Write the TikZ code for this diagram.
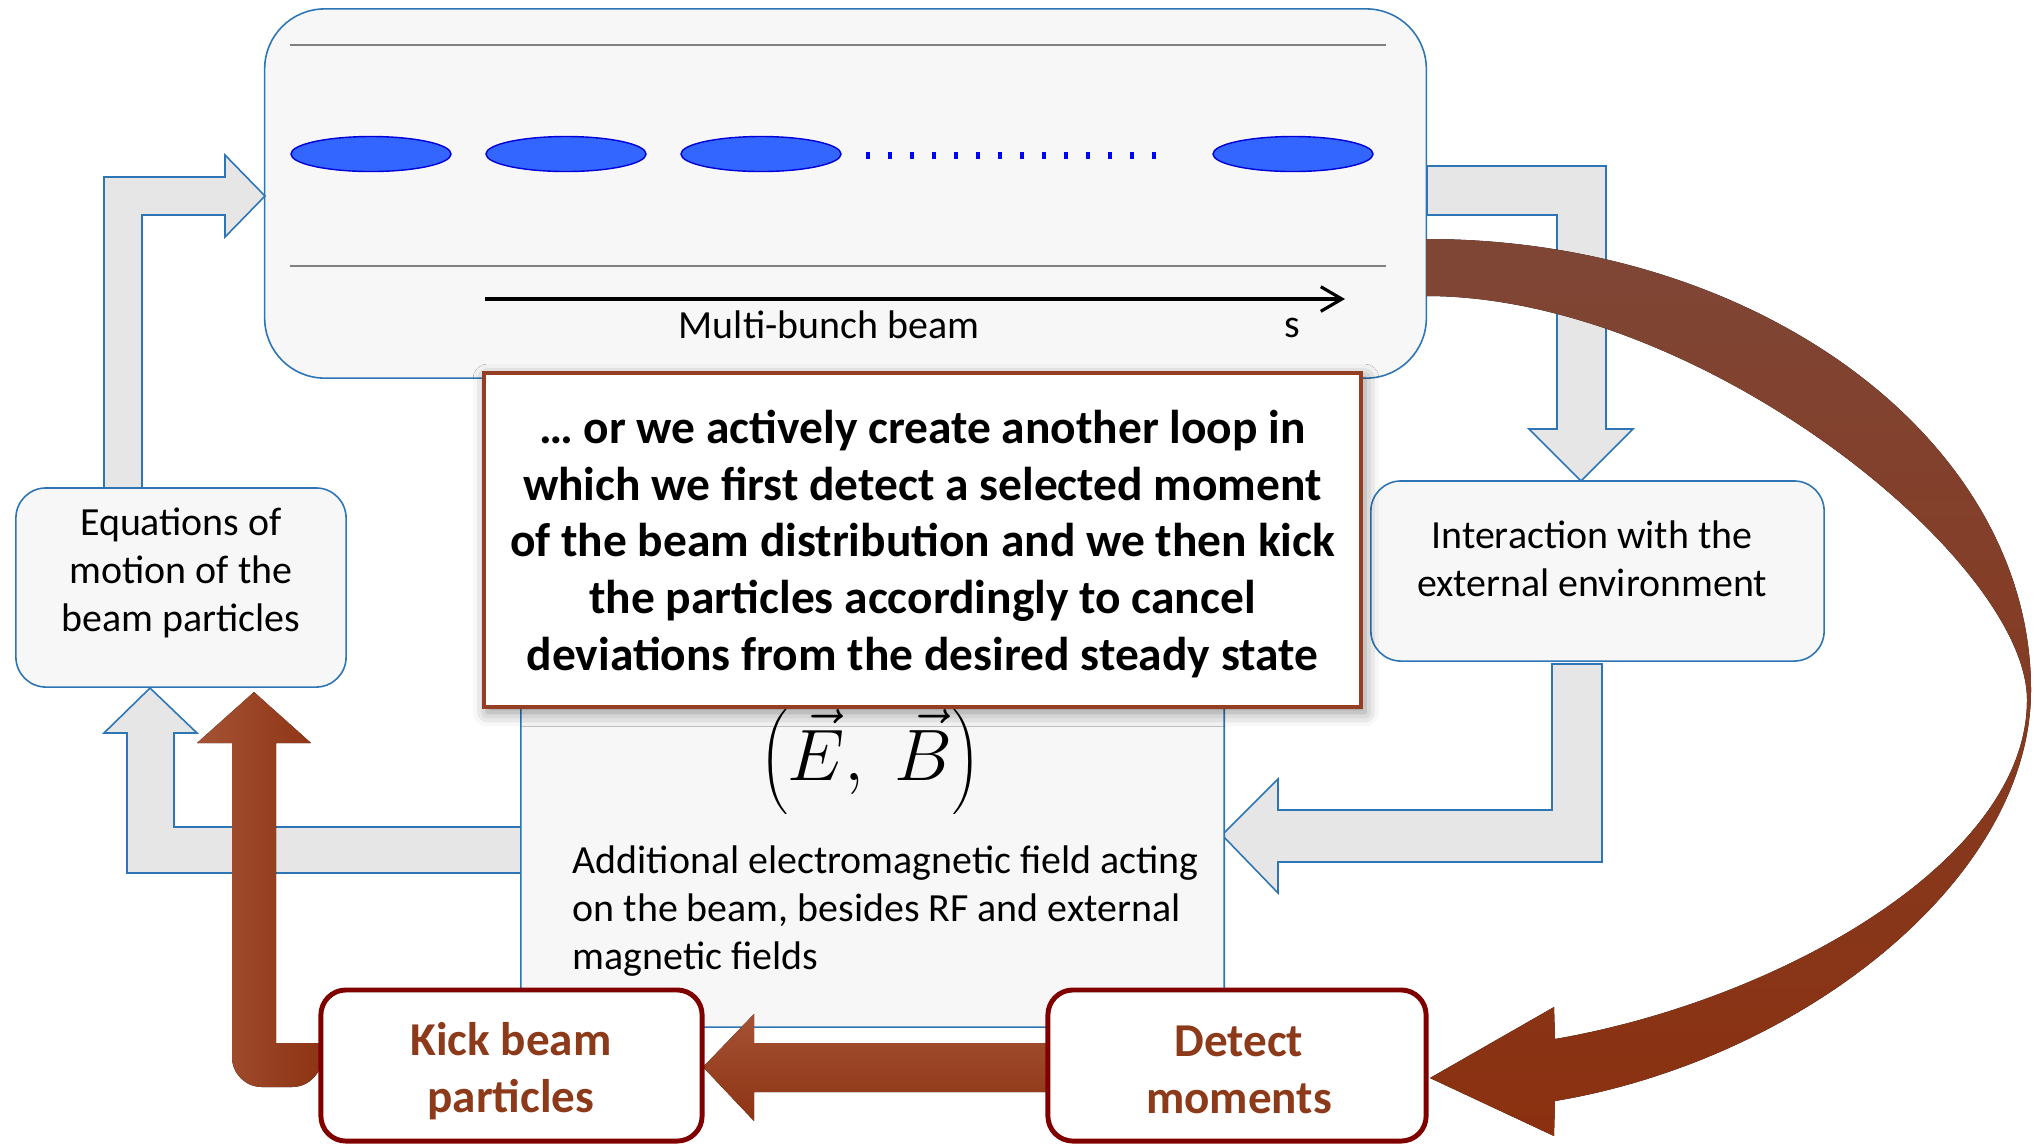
\documentclass[tikz,border=0pt]{standalone}
\usepackage{fontspec}
\setmainfont{Carlito}
\definecolor{PanelFill}  {RGB}{247,247,247}
\definecolor{PanelLine}  {RGB}{46,117,182}
\definecolor{ArrowGray}  {RGB}{230,230,230}
\definecolor{BunchBlue}  {RGB}{51,102,255}
\definecolor{KickRed}    {RGB}{128,0,0}
\definecolor{RustText}   {RGB}{140,58,26}
\definecolor{RustBorder} {RGB}{148,62,36}
\definecolor{RustTop}    {RGB}{127,70,54}
\definecolor{RustBottom} {RGB}{139,49,16}
\definecolor{RustLight}  {RGB}{165,82,52}
\definecolor{RustMid}    {RGB}{141,52,20}
\usetikzlibrary{arrows.meta,positioning,calc,shadows.blur}
\tikzset{
  panel/.style={draw=PanelLine,fill=PanelFill,line width=0.45pt,
                rounded corners=0.3cm,inner sep=0pt},
  grayarrow/.style={draw=PanelLine,fill=ArrowGray,line width=0.45pt},
  actbox/.style={draw=KickRed,fill=white,line width=1.4pt,
                 rounded corners=0.25cm,inner sep=0pt},
  plaintext/.style={font=\fontsize{11.35}{13.7}\selectfont,
                    align=center,inner sep=0pt},
  acttext/.style={font=\fontsize{13.4}{16.2}\selectfont\bfseries,
                  text=RustText,align=center,inner sep=0pt},
  bunch/.style={draw=blue!85!black,fill=BunchBlue,line width=0.4pt},
}
\begin{document}
\begin{tikzpicture}[x=0.01cm,y=-0.01cm]
  \useasboundingbox (0,0) rectangle (2042,1144);
  %% Beam pipe with bunches
  \node[panel,rounded corners=0.6cm,minimum width=11.61cm,
        minimum height=3.69cm] (beam) at (845.5,193.5) {};
  \draw[gray,line width=0.6pt](290,45)--(1386,45);
  \draw[gray,line width=0.6pt](290,266)--(1386,266);
  \foreach \cx in {371,566,761,1293}
    \draw[bunch](\cx,154) ellipse (0.8cm and 0.175cm);
  \foreach \i in {0,...,13}
    \fill[blue]({866+\i*22},152) rectangle ++(4,7);
  \draw[-{Straight Barb[length=6pt,width=7pt]},line width=0.9pt]
       (485,299)--(1345,299);
  \node[plaintext] (beamlabel) at (829,325) {Multi-bunch beam};
  \node[plaintext] (slabel) at (1292,328) {s};
  %% Gray loop arrows
  \draw[grayarrow](beam.east |- 0,166)--(1606,166)--(1606,429)--(1633,429)
       --(1581,481)--(1529,429)--(1557,429)--(1557,215)
       --(beam.east |- 0,215)--cycle;
  \draw[grayarrow](1552,664)--(1602,664)--(1602,862)--(1278,862)
       --(1278,893)--(1222,835)--(1278,779)--(1278,810)--(1552,810)--cycle;
  \draw[grayarrow](521,827)--(174,827)--(174,733)--(197,733)--(150,688)
       --(104,733)--(127,733)--(127,873)--(521,873)--cycle;
  \draw[grayarrow](104,488)--(104,177)--(225,177)--(225,155)--(265,196)
       --(225,237)--(225,215)--(142,215)--(142,488)--cycle;
  %% Boxes of the natural loop
  \node[panel,minimum width=3.30cm,minimum height=1.99cm]
       (motion) at (181,587.5) {};
  \node[plaintext] (motiontext) at (181,573)
       {Equations of\\motion of the\\beam particles};
  \node[panel,minimum width=4.53cm,minimum height=1.80cm]
       (inter) at (1597.5,571) {};
  \node[plaintext] (intertext) at (1592,559)
       {Interaction with the\\external environment};
  \node[panel,minimum width=7.03cm,minimum height=3.67cm]
       (field) at (872.5,843.5) {};
  \node[inner sep=0pt] (fields) at (870,762)
       {\fontsize{21.5}{26}\selectfont
        $\left(\vphantom{\rule[-9pt]{0pt}{20pt}}\vec{E},\ \vec{B}\right)$};
  \node[plaintext,align=left,anchor=west] (fieldtext) at (572,911)
       {Additional electromagnetic field acting\\on the beam, besides RF and external\\magnetic fields};
  %% Statement box
  \node[draw=RustBorder,fill=white,line width=1.1pt,minimum width=8.77cm,
        minimum height=3.34cm,inner sep=0pt,
        blur shadow={shadow xshift=1pt,shadow yshift=-1.5pt,
                     shadow blur radius=4pt,shadow opacity=45}]
       (summary) at (922.5,540) {};
  \node[font=\fontsize{13.5}{16.2}\selectfont\bfseries,align=center,
        inner sep=0pt] (summarytext) at (922.5,544)
       {… or we actively create another loop in\\which we first detect a selected moment\\of the beam distribution and we then kick\\the particles accordingly to cancel\\deviations from the desired steady state};
  %% Feedback loop
  \fill[top color=RustTop,bottom color=RustBottom]
       (1426,239) .. controls (1760,239) and (2031,441) .. (2031,690)
       .. controls (2031,880) and (1800,1060) .. (1555,1101)
       --(1554,1136)--(1430,1078)--(1554,1007)--(1555,1039)
       .. controls (1780,1000) and (2027,860) .. (2027,700)
       .. controls (2027,560) and (1700,296) .. (1426,296)--cycle;
  \fill[left color=RustLight,right color=RustMid]
       (322,1043)--(276,1043)--(276,743)--(311,743)--(254,692)--(197,743)
       --(232,743)--(232,1000)[rounded corners=0.3cm]--(232,1087)
       --(322,1087)[sharp corners]--cycle;
  \fill[top color=RustLight,bottom color=RustMid]
       (1048,1043)--(754,1043)--(754,1014)--(703,1067)--(754,1121)
       --(754,1092)--(1048,1092)--cycle;
  \node[actbox,minimum width=3.81cm,minimum height=1.51cm]
       (kick) at (511.5,1065.5) {};
  \node[acttext] (kicktext) at (511,1071) {Kick beam\\particles};
  \node[actbox,minimum width=3.78cm,minimum height=1.51cm]
       (detect) at (1237,1065.5) {};
  \node[acttext] (detecttext) at (1239,1070) {Detect\\moments};
\end{tikzpicture}
\end{document}
